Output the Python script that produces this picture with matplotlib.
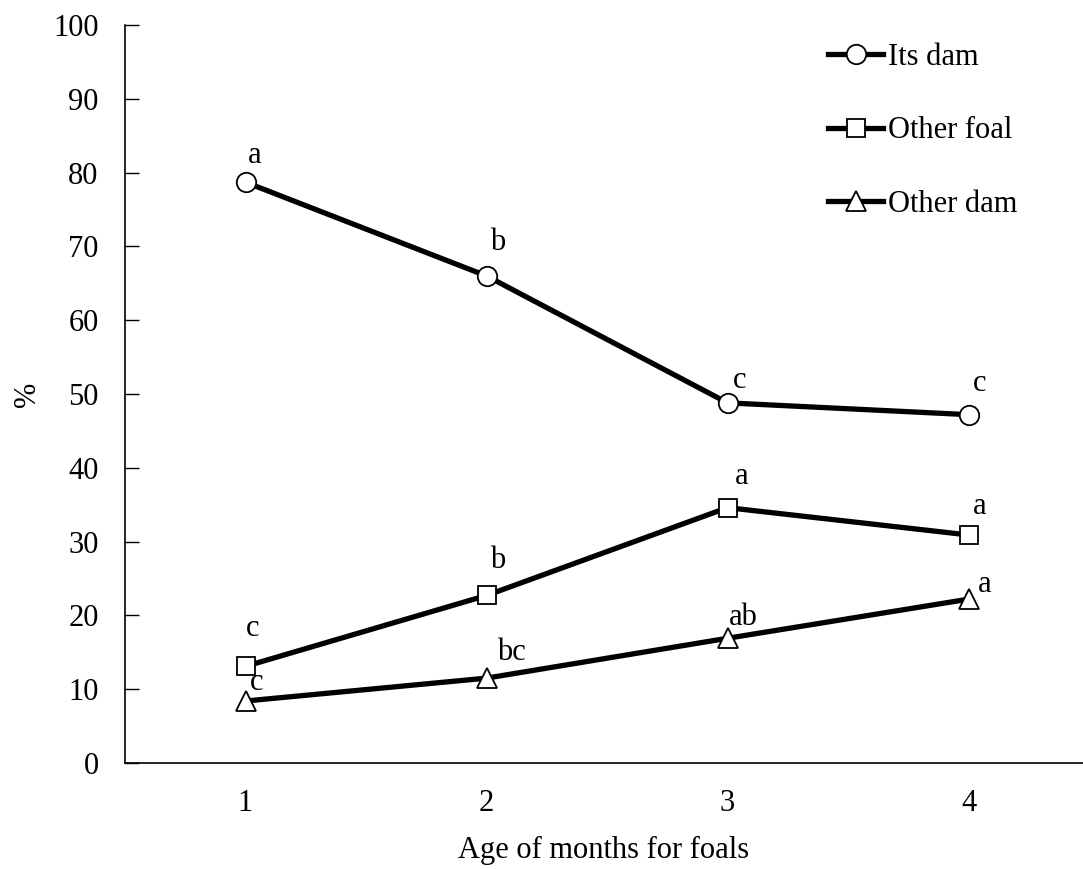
import matplotlib
matplotlib.use("Agg")
from matplotlib import pyplot as plt

plt.rcParams["font.family"] = ["Liberation Serif", "DejaVu Serif"]

months = [1, 2, 3, 4]
its_dam = [78.7, 66.0, 48.8, 47.2]
other_foal = [13.1, 22.7, 34.6, 30.9]
other_dam = [8.4, 11.5, 16.9, 22.2]

its_dam_letters = ["a", "b", "c", "c"]
other_foal_letters = ["c", "b", "a", "a"]
other_dam_letters = ["c", "bc", "ab", "a"]

# label offsets in pixels (dx, dy up)
its_dam_off = [(9, 27), (11, 33), (12, 22), (11, 31)]
other_foal_off = [(7, 38), (11, 35), (14, 31), (11, 28)]
other_dam_off = [(11, 19), (25, 26), (16, 21), (16, 15)]

W, H = 1083, 869
fig = plt.figure(figsize=(W / 100, H / 100), dpi=100)
left, right, top, bottom = 125, 1083, 25, 763
ax = fig.add_axes([left / W, 1 - bottom / H, (right - left) / W, (bottom - top) / H])

series = [
    (its_dam, "o", "Its dam", its_dam_letters, its_dam_off),
    (other_foal, "s", "Other foal", other_foal_letters, other_foal_off),
    (other_dam, "^", "Other dam", other_dam_letters, other_dam_off),
]
for vals, marker, name, letters, offs in series:
    ms = 13.5 if marker == "s" else 14
    ax.plot(months, vals, color="black", lw=3.8, marker=marker, ms=ms,
            mfc="white", mec="black", mew=1.3, label=name)
    for x, y, t, (dx, dy) in zip(months, vals, letters, offs):
        ax.annotate(t, (x, y), xytext=(dx * 0.72, dy * 0.72), textcoords="offset points",
                    ha="center", va="center", fontsize=22)

ax.set_xlim(0.5, 0.5 + (right - left) / 241)
ax.set_ylim(0, 100)
ax.set_yticks(range(0, 101, 10))
ax.set_xticks(months)
ax.tick_params(axis="y", direction="in", length=10, width=1, labelsize=22, pad=19)
ax.tick_params(axis="x", length=0, labelsize=22, pad=19)
for s in ["top", "right"]:
    ax.spines[s].set_visible(False)
for s in ["left", "bottom"]:
    ax.spines[s].set_linewidth(1.2)

ax.set_xlabel("Age of months for foals", fontsize=22, labelpad=13)
ax.set_ylabel("%", fontsize=22, labelpad=8)

leg = ax.legend(loc="upper left", bbox_to_anchor=(828 / W, 1 - 43 / H), bbox_transform=fig.transFigure,
                frameon=False, fontsize=22, handlelength=1.8, handletextpad=0.15,
                labelspacing=1.45, borderaxespad=0, borderpad=0)

fig.savefig("out.png", dpi=100)
